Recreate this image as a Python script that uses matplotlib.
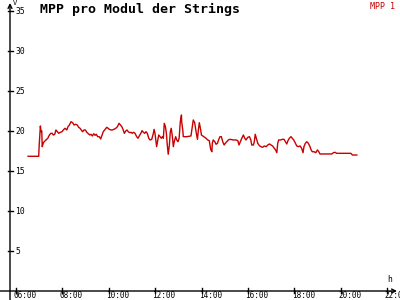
import matplotlib
matplotlib.use('Agg')
import matplotlib.pyplot as plt
import matplotlib.transforms as mtransforms

# Uhrzeit (Stunden) und MPP-Wert (V)
hours = [6.52, 6.98, 6.99, 7.03, 7.05, 7.08, 7.11, 7.13, 7.18, 7.22, 7.29, 7.37, 7.44, 7.50,
         7.56, 7.61, 7.67, 7.72, 7.78, 7.84, 7.91, 7.98, 8.04, 8.11, 8.19, 8.24, 8.30, 8.37,
         8.44, 8.50, 8.57, 8.64, 8.70, 8.76, 8.81, 8.87, 8.93, 8.99, 9.05, 9.10, 9.18, 9.23,
         9.29, 9.35, 9.41, 9.46, 9.52, 9.59, 9.65, 9.71, 9.76, 9.84, 9.91, 9.97, 10.02, 10.09,
         10.15, 10.22, 10.30, 10.37, 10.44, 10.50, 10.56, 10.61, 10.67, 10.73, 10.78, 10.84,
         10.90, 10.96, 11.01, 11.07, 11.13, 11.20, 11.26, 11.31, 11.38, 11.43, 11.49, 11.55,
         11.60, 11.66, 11.72, 11.78, 11.85, 11.92, 11.95, 11.99, 12.02, 12.06, 12.11, 12.15,
         12.21, 12.26, 12.31, 12.35, 12.39, 12.44, 12.48, 12.52, 12.56, 12.61, 12.65, 12.69,
         12.74, 12.78, 12.82, 12.88, 12.93, 12.98, 13.03, 13.08, 13.13, 13.14, 13.19, 13.21,
         13.36, 13.54, 13.59, 13.64, 13.70, 13.76, 13.82, 13.86, 13.90, 13.96, 13.99, 14.05,
         14.10, 14.19, 14.26, 14.33, 14.39, 14.44, 14.46, 14.50, 14.57, 14.62, 14.68, 14.74,
         14.79, 14.85, 14.91, 14.97, 15.02, 15.08, 15.15, 15.22, 15.37, 15.48, 15.56, 15.61,
         15.67, 15.73, 15.80, 15.86, 15.91, 15.99, 16.06, 16.12, 16.16, 16.23, 16.27, 16.31,
         16.36, 16.42, 16.49, 16.56, 16.63, 16.70, 16.78, 16.85, 16.92, 16.99, 17.06, 17.13,
         17.19, 17.24, 17.28, 17.32, 17.41, 17.48, 17.55, 17.61, 17.67, 17.72, 17.78, 17.85,
         17.91, 17.97, 18.03, 18.10, 18.17, 18.24, 18.31, 18.37, 18.41, 18.47, 18.53, 18.60,
         18.67, 18.72, 18.77, 18.84, 18.92, 18.99, 19.05, 19.10, 19.61, 19.68, 19.75, 19.82,
         20.43, 20.50, 20.69]
mpp = [16.84, 16.84, 17.75, 19.59, 20.63, 19.91, 20.00, 18.04, 18.54, 18.66, 18.88, 19.09,
       19.50, 19.71, 19.71, 19.50, 19.59, 20.13, 19.91, 19.71, 19.84, 19.91, 20.13, 20.34,
       20.13, 20.54, 20.75, 21.16, 21.04, 20.75, 20.84, 20.75, 20.46, 20.34, 20.13, 19.91,
       20.13, 20.13, 19.84, 19.71, 19.50, 19.59, 19.38, 19.66, 19.46, 19.59, 19.29, 19.29,
       19.00, 19.50, 19.91, 20.21, 20.46, 20.34, 20.21, 20.13, 20.13, 20.21, 20.34, 20.54,
       20.96, 20.75, 20.54, 20.21, 19.71, 20.00, 20.13, 19.91, 19.79, 19.84, 19.71, 19.84,
       19.71, 19.29, 19.09, 19.38, 19.71, 20.04, 19.84, 19.71, 19.91, 19.71, 19.09, 18.88,
       18.96, 19.71, 20.21, 19.71, 18.96, 18.04, 18.88, 19.50, 19.29, 19.09, 19.29, 19.09,
       20.96, 20.54, 19.71, 18.25, 17.09, 18.25, 19.91, 20.34, 19.29, 18.04, 18.66, 19.29,
       18.88, 18.66, 19.09, 21.16, 22.00, 21.16, 20.04, 19.29, 19.29, 19.38, 20.34, 21.38,
       21.04, 19.91, 18.96, 20.13, 21.04, 20.13, 19.50, 19.38, 19.29, 19.09, 18.88, 18.79,
       17.71, 17.41, 18.46, 18.88, 18.66, 18.34, 18.46, 18.96, 19.29, 19.29, 18.66, 18.25,
       18.46, 18.66, 18.88, 18.96, 18.88, 18.88, 18.79, 18.25, 18.66, 19.09, 19.50, 19.09,
       18.88, 19.21, 19.29, 18.88, 18.25, 18.25, 18.66, 19.59, 19.09, 18.46, 18.16, 18.04,
       17.96, 18.13, 18.04, 18.25, 18.38, 18.25, 18.13, 17.84, 17.63, 17.29, 18.46, 18.88,
       18.88, 18.96, 18.96, 18.66, 18.38, 18.79, 19.09, 19.29, 19.09, 18.88, 18.54, 18.13,
       18.04, 18.13, 17.84, 17.29, 18.04, 18.46, 18.66, 18.46, 18.04, 17.63, 17.41, 17.41,
       17.29, 17.63, 17.41, 17.13, 17.13, 17.29, 17.34, 17.21, 17.21, 17.00, 17.00]

x_ticks = [6, 8, 10, 12, 14, 16, 18, 20, 22]
x_labels = ['06:00', '08:00', '10:00', '12:00', '14:00', '16:00', '18:00', '20:00', '22:00']
y_ticks = [5, 10, 15, 20, 25, 30, 35]

font = 'DejaVu Sans Mono'
red = '#c80000'

fig = plt.figure(figsize=(4, 3), dpi=100)
ax = fig.add_axes([10 / 400, 9 / 300, 387 / 400, 288 / 300])
ax.set_xlim(5.741, 22.42)
ax.set_ylim(0, 36)
ax.axis('off')

ax.plot(hours, mpp, color=red, lw=1.0)

# Achsen mit Pfeilen
ax.annotate('', xy=(0, 1.0), xytext=(0, -0.035), xycoords='axes fraction',
            arrowprops=dict(arrowstyle='->', lw=1, color='black', shrinkA=0, shrinkB=0,
                            mutation_scale=7))
ax.annotate('', xy=(1.0, 0), xytext=(-0.03, 0), xycoords='axes fraction',
            arrowprops=dict(arrowstyle='->', lw=1, color='black', shrinkA=0, shrinkB=0,
                            mutation_scale=7))

# Ticks und Beschriftungen
ytr = mtransforms.blended_transform_factory(ax.transAxes, ax.transData)
for v in y_ticks:
    ax.plot([-0.006, 0.008], [v, v], color='black', lw=1, transform=ytr, clip_on=False)
    ax.text(0.013, v, str(v), transform=ytr, fontsize=5.8, family=font,
            ha='left', va='center')

xtr = mtransforms.blended_transform_factory(ax.transData, ax.transAxes)
for h, lab in zip(x_ticks, x_labels):
    ax.plot([h, h], [-0.008, 0.01], color='black', lw=1, transform=xtr, clip_on=False)
    ax.text(h - 0.12, -0.0305, lab, transform=xtr, fontsize=5.5, family=font,
            ha='left', va='bottom', clip_on=False)

ax.text(0.008, 1.01, 'V', transform=ax.transAxes, fontsize=5, family=font,
        ha='left', va='top')
ax.text(0.975, 0.025, 'h', transform=ax.transAxes, fontsize=5.8, family=font,
        ha='left', va='bottom')

fig.text(40 / 400, 1 - 3 / 300, 'MPP pro Modul der Strings', fontsize=9.5,
         family=font, fontweight='bold', ha='left', va='top')
fig.text(395 / 400, 1 - 2 / 300, 'MPP 1', fontsize=6, family=font, color=red,
         ha='right', va='top')

fig.savefig('out.png', dpi=100)
